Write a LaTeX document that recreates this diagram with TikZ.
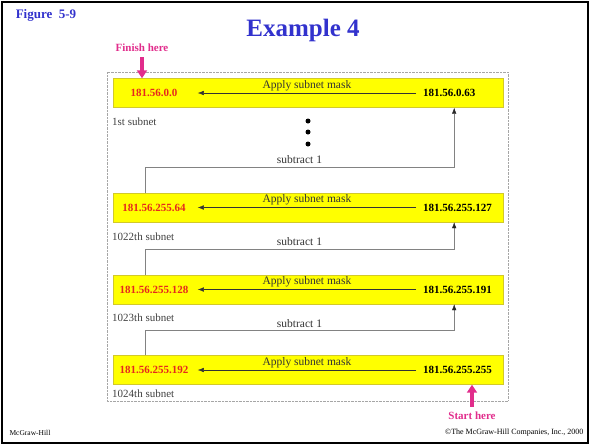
\documentclass[tikz,border=0pt]{standalone}
\usepackage{fontspec}
\setmainfont{Liberation Serif}
\usetikzlibrary{arrows,arrows.meta}
\definecolor{barfill}{RGB}{255,255,0}
\definecolor{addrred}{RGB}{230,40,30}
\definecolor{hotpink}{RGB}{225,45,140}
\definecolor{titleblue}{RGB}{50,50,205}
\definecolor{linegray}{RGB}{130,130,130}

\begin{document}
\begin{tikzpicture}[x=1pt,y=-1pt,
  bar/.style={draw=yellow!80!black,fill=barfill,minimum width=390pt,minimum height=29pt,inner sep=0pt},
  first addr/.style={font=\bfseries\fontsize{11}{12}\selectfont,text=addrred,inner sep=1pt},
  last addr/.style={font=\bfseries\fontsize{11}{12}\selectfont,anchor=west,inner sep=1pt},
  subnet/.style={font=\fontsize{11}{12}\selectfont,text=black!75,anchor=west,inner sep=0pt},
  note/.style={font=\fontsize{11.5}{12}\selectfont,text=black!80,inner sep=1pt},
  mask/.style={-{Latex[length=6pt,width=4.5pt]},black!80,thin},
  sub/.style={-{Latex[length=6pt,width=4.5pt,color=black!85]},linegray,thin},
  here/.style={-{Triangle[length=8pt,width=10pt]},line width=3.5pt,hotpink},
  here text/.style={font=\bfseries\fontsize{11}{12}\selectfont,text=hotpink}]

  \useasboundingbox (0,0) rectangle (590,445);
  \draw[line width=2pt] (2,2) rectangle (588,443);
  \node[font=\bfseries\fontsize{13}{14}\selectfont,text=titleblue] (fig) at (46,15) {Figure~~5-9};
  \node[font=\bfseries\fontsize{25}{28}\selectfont,text=titleblue] (title) at (303,30) {Example 4};
  \draw[densely dotted,black!35] (107,72) rectangle (508,401);

  % subnet bars
  \node[bar] (b1) at (308,93) {};
  \node[bar] (b2) at (308,207.5) {};
  \node[bar] (b3) at (308,289.5) {};
  \node[bar] (b4) at (308,370) {};

  \node[first addr] (f1) at (154,93) {181.56.0.0};
  \node[first addr] (f2) at (154,207.5) {181.56.255.64};
  \node[first addr] (f3) at (154,289.5) {181.56.255.128};
  \node[first addr] (f4) at (154,370) {181.56.255.192};

  \node[last addr] (l1) at (422,93) {181.56.0.63};
  \node[last addr] (l2) at (422,207.5) {181.56.255.127};
  \node[last addr] (l3) at (422,289.5) {181.56.255.191};
  \node[last addr] (l4) at (422,370) {181.56.255.255};

  \node[subnet] (s1) at (112,122) {1st subnet};
  \node[subnet] (s2) at (112,237) {1022th subnet};
  \node[subnet] (s3) at (112,318) {1023th subnet};
  \node[subnet] (s4) at (112,394) {1024th subnet};

  % apply mask
  \draw[mask] ([xshift=-6pt]l1.west) -- node[above=1pt,note] {Apply subnet mask} ([xshift=85pt]b1.west);
  \draw[mask] ([xshift=-6pt]l2.west) -- node[above=1pt,note] {Apply subnet mask} ([xshift=85pt]b2.west);
  \draw[mask] ([xshift=-6pt]l3.west) -- node[above=1pt,note] {Apply subnet mask} ([xshift=85pt]b3.west);
  \draw[mask] ([xshift=-6pt]l4.west) -- node[above=1pt,note] {Apply subnet mask} ([xshift=85pt]b4.west);

  % subtract 1
  \draw[sub] ([xshift=32pt]b2.north west) -- ++(0,-26) -| node[pos=0.25,above=1.5pt,note] {subtract 1} ([xshift=-49pt]b1.south east);
  \draw[sub] ([xshift=32pt]b3.north west) -- ++(0,-26) -| node[pos=0.25,above=1.5pt,note] {subtract 1} ([xshift=-49pt]b2.south east);
  \draw[sub] ([xshift=32pt]b4.north west) -- ++(0,-25) -| node[pos=0.25,above=1.5pt,note] {subtract 1} ([xshift=-49pt]b3.south east);

  \foreach \y in {121,132,144}
    \fill (308,\y) circle (2.5pt);

  % start / finish
  \node[here text] (finish) at (142,48) {Finish here};
  \draw[here] ([yshift=-2pt]finish.south) -- (b1.north -| finish);
  \node[here text] (start) at (472,416) {Start here};
  \draw[here] ([yshift=2pt]start.north) -- (b4.south -| start);

  \node[font=\fontsize{7.5}{9}\selectfont,anchor=west] (pub) at (6,433) {McGraw-Hill};
  \node[font=\fontsize{8}{9}\selectfont,anchor=east] (copy) at (587,433) {©The McGraw-Hill Companies, Inc., 2000};
\end{tikzpicture}
\end{document}
